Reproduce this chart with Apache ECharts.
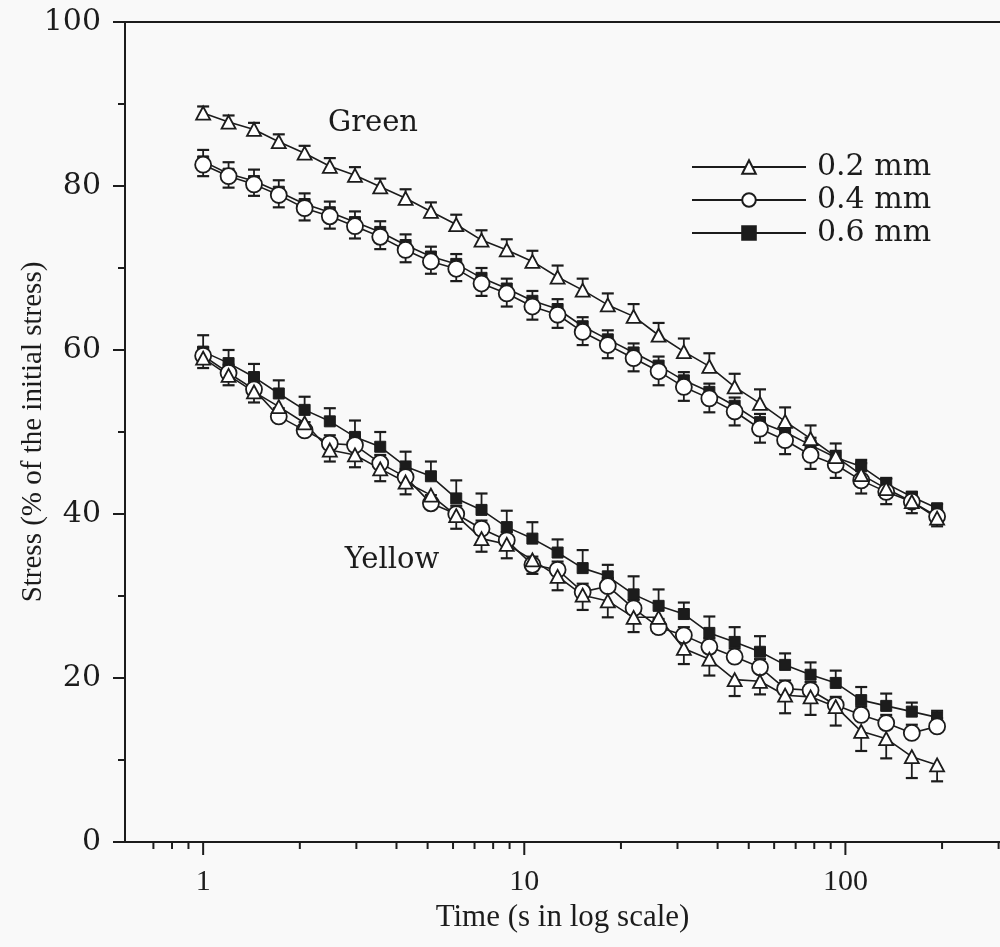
<!DOCTYPE html>
<html><head><meta charset="utf-8">
<script src="https://cdn.jsdelivr.net/npm/echarts@6/dist/echarts.min.js"></script>
<style>html,body{margin:0;padding:0;background:#f9f9f9}#c{width:1000px;height:947px}</style>
</head><body><div id="c"></div>
<script>
// Time (s), log-spaced sample times
const times = [1, 1.2, 1.44, 1.72, 2.07, 2.48, 2.97, 3.56, 4.27, 5.12, 6.14, 7.36, 8.82, 10.6, 12.7, 15.2, 18.2, 21.9, 26.2, 31.4, 37.7, 45.2, 54.2, 64.9, 77.9, 93.3, 112, 134, 161, 193];

// Green banana
const green02 = [88.9, 87.8, 86.9, 85.4, 84.0, 82.4, 81.3, 79.9, 78.5, 76.9, 75.3, 73.4, 72.2, 70.8, 68.9, 67.3, 65.5, 64.1, 61.8, 59.8, 58.0, 55.5, 53.5, 51.3, 49.2, 47.0, 44.8, 43.1, 41.5, 39.5];
const green04 = [82.6, 81.2, 80.2, 78.9, 77.3, 76.3, 75.1, 73.8, 72.2, 70.8, 69.9, 68.1, 66.9, 65.3, 64.3, 62.2, 60.6, 59.0, 57.4, 55.5, 54.1, 52.5, 50.4, 49.0, 47.2, 46.0, 44.1, 42.7, 41.5, 39.7];
const green06 = [83.0, 81.5, 80.6, 79.3, 77.8, 76.8, 75.6, 74.4, 72.8, 71.4, 70.5, 68.8, 67.5, 66.0, 65.0, 62.9, 61.3, 59.7, 58.1, 56.3, 54.9, 53.2, 51.2, 50.0, 48.4, 46.9, 45.8, 43.7, 42.1, 40.7];
// Yellow banana
const yellow02 = [59.0, 56.9, 54.9, 53.1, 51.1, 47.8, 47.2, 45.5, 43.9, 42.3, 39.8, 37.0, 36.3, 34.4, 32.4, 30.1, 29.4, 27.4, 27.4, 23.6, 22.3, 19.8, 19.6, 17.9, 17.7, 16.5, 13.5, 12.6, 10.4, 9.4];
const yellow04 = [59.3, 57.2, 55.2, 51.9, 50.2, 48.6, 48.4, 46.2, 44.5, 41.3, 40.0, 38.2, 36.8, 33.8, 33.2, 30.5, 31.2, 28.5, 26.2, 25.2, 23.8, 22.6, 21.3, 18.7, 18.5, 16.7, 15.5, 14.5, 13.3, 14.1];
const yellow06 = [59.8, 58.4, 56.7, 54.7, 52.7, 51.3, 49.4, 48.2, 45.8, 44.6, 41.9, 40.5, 38.4, 37.0, 35.3, 33.4, 32.4, 30.2, 28.8, 27.8, 25.5, 24.4, 23.2, 21.6, 20.4, 19.4, 17.3, 16.6, 15.9, 15.2];

// Error bars (one-sided; positive = drawn upward, negative = downward)
const errGreen02 = [0.8, 0.8, 0.8, 0.9, 0.9, 1.0, 1.0, 1.0, 1.1, 1.1, 1.2, 1.2, 1.3, 1.3, 1.4, 1.4, 1.4, 1.5, 1.5, 1.6, 1.6, 1.6, 1.7, 1.7, 1.6, 1.6, 1.4, 1.2, 1.0, 0.8];
const errGreen04 = [-1.4, -1.4, -1.4, -1.5, -1.5, -1.5, -1.5, -1.5, -1.5, -1.5, -1.5, -1.5, -1.6, -1.6, -1.6, -1.6, -1.6, -1.6, -1.7, -1.7, -1.7, -1.7, -1.7, -1.7, -1.7, -1.6, -1.6, -1.5, -1.4, -1.2];
const errGreen06 = [1.4, 1.4, 1.4, 1.4, 1.3, 1.3, 1.3, 1.3, 1.3, 1.2, 1.2, 1.2, 1.2, 1.2, 1.2, 1.1, 1.1, 1.1, 1.1, 1.0, 1.0, 1.0, 1.0, 0.9, 0.9, 0.8, 0.8, 0.7, 0.6, 0.5];
const errYellow02 = [-1.2, -1.2, -1.3, -1.3, -1.4, -1.4, -1.5, -1.5, -1.5, -1.6, -1.6, -1.6, -1.7, -1.7, -1.7, -1.8, -2.0, -1.8, -1.9, -1.9, -2.0, -2.0, -1.6, -2.2, -2.2, -2.3, -2.4, -2.4, -2.6, -2.0];
const errYellow04 = [1.0, 1.0, 1.0, 1.0, 1.0, 1.0, 1.0, 1.0, 1.0, 1.0, 1.0, 1.0, 1.0, 1.0, 1.0, 1.0, 1.0, 1.0, 1.0, 1.0, 1.0, 1.0, 1.0, 1.0, 1.0, 1.0, 1.0, 1.0, 1.0, 1.0];
const errYellow06 = [2.0, 1.6, 1.6, 1.6, 1.6, 1.6, 2.0, 1.8, 1.8, 1.8, 2.2, 2.0, 2.0, 2.0, 1.6, 2.2, 1.4, 2.2, 2.0, 1.4, 2.0, 1.8, 1.9, 1.4, 1.5, 1.5, 1.6, 1.5, 1.1, 0.8];

const xMajorTicks = [1, 10, 100];
const xMinorTicks = [0.7, 0.8, 0.9, 2, 3, 4, 5, 6, 7, 8, 9, 20, 30, 40, 50, 60, 70, 80, 90, 200, 300];
const legendNames = ['0.2 mm', '0.4 mm', '0.6 mm'];

const INK = '#1c1c1c';
const chart = echarts.init(document.getElementById('c'));

const styles = {
  '0.2 mm': { symbol: 'triangle', symbolSize: [14, 13], itemStyle: { color: '#fff', borderColor: INK, borderWidth: 1.8 } },
  '0.4 mm': { symbol: 'circle', symbolSize: 16, itemStyle: { color: '#fff', borderColor: INK, borderWidth: 1.8 } },
  '0.6 mm': { symbol: 'rect', symbolSize: 11, itemStyle: { color: INK, borderColor: INK, borderWidth: 1 } }
};

function lineSeries(name, values) {
  const s = styles[name];
  return {
    type: 'line', name: name,
    data: times.map((t, i) => [t, values[i]]),
    symbol: s.symbol, symbolSize: s.symbolSize, showAllSymbol: true,
    itemStyle: s.itemStyle,
    lineStyle: { color: INK, width: 1.6 },
    z: 3, silent: true
  };
}
function errSeries(values, errs) {
  return {
    type: 'custom', silent: true, z: 2, clip: false,
    data: times.map((t, i) => [t, values[i], errs[i]]),
    encode: { x: 0, y: 1 },
    renderItem: function (params, api) {
      const x = api.value(0), y = api.value(1), e = api.value(2);
      const p = api.coord([x, y]);
      const q = api.coord([x, y + e]);
      return {
        type: 'group', children: [
          { type: 'line', shape: { x1: p[0], y1: p[1], x2: q[0], y2: q[1] }, style: { stroke: INK, lineWidth: 1.8 } },
          { type: 'line', shape: { x1: q[0] - 6, y1: q[1], x2: q[0] + 6, y2: q[1] }, style: { stroke: INK, lineWidth: 2.2 } }
        ]
      };
    }
  };
}
function tickSeries(vals, len, withLabel) {
  return {
    type: 'custom', silent: true, clip: false, z: 5,
    data: vals.map(v => [v, 0]),
    encode: { x: 0, y: 1 },
    renderItem: function (params, api) {
      const v = api.value(0);
      const p = api.coord([v, 0]);
      const children = [{ type: 'line', shape: { x1: p[0], y1: p[1], x2: p[0], y2: p[1] + len }, style: { stroke: INK, lineWidth: 2 } }];
      if (withLabel) {
        children.push({ type: 'text', x: p[0], y: p[1] + 40, style: { text: String(v), font: '30px "Liberation Serif"', fill: INK, align: 'center', verticalAlign: 'middle' } });
      }
      return { type: 'group', children: children };
    }
  };
}

const series = [
  errSeries(green06, errGreen06), errSeries(green04, errGreen04), errSeries(green02, errGreen02),
  errSeries(yellow06, errYellow06), errSeries(yellow04, errYellow04), errSeries(yellow02, errYellow02),
  lineSeries('0.6 mm', green06), lineSeries('0.4 mm', green04), lineSeries('0.2 mm', green02),
  lineSeries('0.6 mm', yellow06), lineSeries('0.4 mm', yellow04), lineSeries('0.2 mm', yellow02),
  tickSeries(xMajorTicks, 13, true), tickSeries(xMinorTicks, 7, false)
];

chart.setOption({
  animation: false,
  backgroundColor: '#f9f9f9',
  grid: { left: 125, right: 0, top: 22, bottom: 105, containLabel: false, outerBoundsMode: 'none' },
  xAxis: [
    {
      type: 'log', logBase: 10, min: 0.571, max: 303,
      axisLine: { lineStyle: { color: INK, width: 2 } },
      axisTick: { show: false }, axisLabel: { show: false }, splitLine: { show: false },
      name: 'Time (s in log scale)', nameLocation: 'middle', nameGap: 60, nameMoveOverlap: false,
      nameTextStyle: { fontFamily: 'Liberation Serif', fontSize: 31, color: INK }
    },
    {
      type: 'log', logBase: 10, min: 0.571, max: 303, position: 'top',
      axisLine: { lineStyle: { color: INK, width: 2 } },
      axisTick: { show: false }, axisLabel: { show: false }, splitLine: { show: false }
    }
  ],
  yAxis: {
    type: 'value', min: 0, max: 100, interval: 20,
    axisLine: { show: true, lineStyle: { color: INK, width: 2 } },
    axisTick: { show: true, length: 12, lineStyle: { color: INK, width: 2 } },
    minorTick: { show: true, splitNumber: 2, length: 7, lineStyle: { color: INK, width: 2 } },
    axisLabel: { fontFamily: 'DejaVu Serif', fontSize: 30, color: INK, margin: 24 },
    splitLine: { show: false },
    name: 'Stress (% of the initial stress)', nameLocation: 'middle', nameGap: 92, nameRotate: 90, nameMoveOverlap: false,
    nameTextStyle: { fontFamily: 'Liberation Serif', fontSize: 29, color: INK, verticalAlign: 'middle' }
  },
  legend: {
    data: legendNames, orient: 'vertical', left: 686, top: 147,
    itemWidth: 114, itemHeight: 17, itemGap: 3,
    textStyle: { fontFamily: 'DejaVu Serif', fontSize: 30, color: INK, padding: [0, 0, 0, 6] },
    inactiveColor: INK, selectedMode: false
  },
  graphic: [
    { type: 'text', x: 373, y: 123, style: { text: 'Green', font: '29px "DejaVu Serif"', fill: INK, align: 'center', verticalAlign: 'middle' } },
    { type: 'text', x: 392, y: 560, style: { text: 'Yellow', font: '29px "DejaVu Serif"', fill: INK, align: 'center', verticalAlign: 'middle' } }
  ],
  series: series
});
</script></body></html>
